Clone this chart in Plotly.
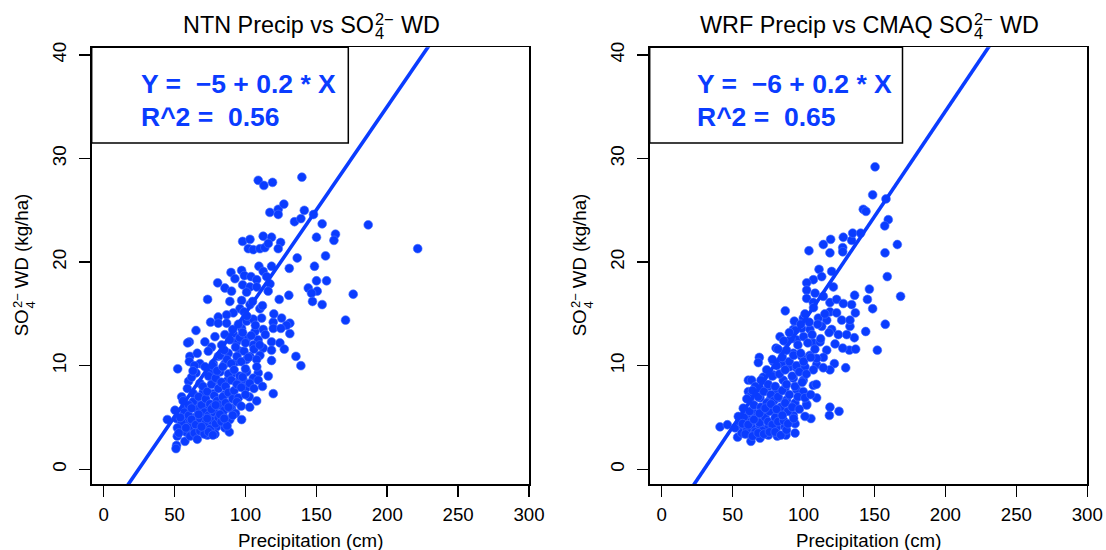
import plotly.graph_objects as go

W, H = 1106, 550
FONT = "Liberation Sans, Arial, Helvetica, sans-serif"
BLUE = "rgb(10,60,255)"

# ---------------- data ----------------
x_ticks = [0, 50, 100, 150, 200, 250, 300]
y_ticks = [0, 10, 20, 30, 40]
x_range = [-8.46, 300]
y_range = [-1.45, 40.74]

# NTN precipitation (cm) vs NTN SO4 wet deposition (kg/ha)
ntn_points = [
    (109.0, 27.9), (113.0, 27.4), (119.1, 27.7), (139.8, 28.2), (117.2, 24.8), (123.1, 25.1),
    (127.1, 25.6), (123.1, 24.6), (134.6, 23.9), (139.1, 24.2), (141.5, 25.0), (148.0, 24.6),
    (154.1, 23.7), (150.1, 22.4), (163.5, 22.7), (162.4, 22.1), (186.6, 23.6), (221.5, 21.3),
    (98.0, 22.0), (103.2, 22.2), (112.5, 22.5), (118.4, 22.4), (124.8, 21.9), (102.0, 21.3),
    (105.5, 21.2), (110.2, 21.3), (113.7, 21.4), (116.1, 21.8), (123.1, 21.3), (156.5, 20.6),
    (136.5, 20.4), (109.5, 19.6), (118.4, 19.6), (130.9, 19.4), (148.7, 19.6), (112.5, 19.1),
    (89.8, 19.0), (97.3, 19.2), (92.6, 18.4), (99.2, 18.7), (103.9, 18.6), (107.9, 18.3),
    (114.9, 18.6), (117.3, 17.9), (80.4, 18.0), (85.5, 17.5), (90.2, 17.2), (98.0, 17.8),
    (103.2, 17.6), (107.9, 17.6), (100.8, 17.1), (144.3, 17.5), (150.1, 18.2), (157.2, 18.2),
    (150.6, 17.2), (146.6, 17.0), (176.0, 16.9), (170.6, 14.4), (147.3, 16.2), (154.1, 15.9),
    (123.8, 16.4), (130.6, 16.8), (73.3, 16.4), (89.0, 16.2), (97.3, 16.3), (103.2, 15.9),
    (110.2, 15.5), (96.1, 15.5), (91.4, 15.1), (86.7, 14.9), (80.8, 14.7), (75.4, 14.2),
    (80.8, 14.1), (86.7, 14.1), (100.8, 14.3), (105.5, 14.5), (111.4, 14.6), (119.6, 14.2),
    (125.5, 14.6), (131.3, 14.1), (129.0, 13.9), (131.3, 13.1), (119.6, 13.6), (112.5, 13.5),
    (106.7, 13.3), (97.3, 13.6), (91.4, 13.1), (85.5, 13.0), (78.5, 12.8), (71.4, 12.3),
    (65.1, 13.4), (60.4, 12.3), (59.2, 12.2), (76.1, 11.8), (83.2, 12.0), (93.8, 12.3),
    (100.8, 12.6), (109.0, 12.5), (118.4, 12.3), (124.3, 12.2), (112.5, 11.7), (105.5, 12.0),
    (73.8, 11.4), (80.8, 10.9), (87.9, 11.2), (96.1, 11.4), (103.2, 10.9), (110.2, 11.0),
    (118.4, 11.5), (127.4, 11.6), (60.8, 10.9), (60.4, 10.4), (67.9, 10.2), (71.4, 9.9),
    (77.3, 10.2), (85.5, 10.2), (93.8, 10.4), (100.8, 10.6), (107.9, 10.6), (118.4, 10.5),
    (135.6, 10.9), (139.1, 10.0), (52.2, 9.7), (65.1, 9.3), (75.0, 9.3), (82.0, 9.4),
    (91.4, 9.3), (100.8, 9.4), (109.0, 9.3), (116.1, 9.0), (105.5, 8.8), (98.4, 8.6),
    (59.9, 8.5), (67.9, 8.3), (77.3, 8.5), (86.7, 8.5), (93.8, 8.4), (98.4, 7.9),
    (100.8, 7.9), (119.6, 7.3), (55.0, 7.0), (63.2, 7.3), (70.3, 7.5), (77.3, 7.3),
    (85.5, 7.2), (90.2, 7.2), (92.6, 6.9), (102.7, 7.0), (107.9, 6.6), (50.3, 5.7),
    (58.5, 6.0), (65.5, 6.2), (71.4, 5.9), (78.5, 6.0), (84.4, 6.0), (90.2, 5.9),
    (44.9, 4.8), (51.4, 4.9), (58.5, 4.8), (65.5, 5.1), (71.4, 5.1), (78.5, 5.0),
    (84.4, 5.1), (89.0, 4.8), (97.3, 4.8), (53.8, 4.1), (60.8, 4.1), (67.9, 4.1),
    (73.8, 4.3), (79.6, 4.1), (85.5, 4.0), (88.6, 3.6), (73.1, 3.3), (78.5, 3.4),
    (51.9, 3.2), (57.3, 2.7), (51.4, 2.3), (51.0, 2.0),
    (55, 4.5), (57, 5.5), (60, 5.2), (62, 4.8), (63, 6.5), (65, 4.3), (66, 5.8), (67, 7.0),
    (68, 4.9), (69, 6.2), (70, 3.8), (70, 8.0), (71, 5.5), (72, 6.8), (72, 4.5), (73, 7.5),
    (74, 9.0), (74, 5.2), (75, 6.3), (75, 3.9), (76, 8.2), (76, 4.7), (77, 10.0), (77, 6.0),
    (78, 7.1), (78, 5.5), (79, 8.8), (79, 4.4), (80, 6.6), (80, 9.5), (81, 5.0), (81, 7.8),
    (82, 11.0), (82, 6.2), (83, 8.4), (83, 4.6), (84, 9.9), (84, 7.0), (85, 5.7), (85, 11.5),
    (86, 8.0), (86, 6.4), (87, 10.6), (87, 4.2), (88, 7.4), (88, 9.2), (89, 12.5), (89, 5.9),
    (90, 8.6), (90, 10.2), (91, 6.8), (91, 13.5), (92, 9.6), (92, 7.6), (93, 11.8), (93, 5.4),
    (94, 8.2), (94, 10.9), (95, 14.0), (95, 6.9), (96, 9.0), (96, 12.7), (97, 7.9), (97, 10.4),
    (98, 13.2), (98, 8.9), (99, 11.4), (99, 15.2), (100, 9.7), (100, 12.2), (101, 14.8),
    (102, 10.8), (103, 8.3), (104, 12.9), (105, 16.2), (106, 11.6), (107, 13.9), (108, 9.9),
    (110, 12.0), (112, 15.8), (114, 13.0), (116, 17.2), (120, 15.0), (125, 13.6),
    (58, 3.6), (61, 3.2), (64, 3.5), (66, 2.9), (68, 3.7), (71, 3.4), (74, 3.6), (77, 3.3),
    (56, 6.6), (59, 7.8), (62, 8.9), (64, 10.0), (66, 11.2), (60, 6.2), (63, 9.5), (52, 4.0),
    (54, 5.0), (53, 3.5), (58, 4.0), (62, 5.9), (67, 5.3), (69, 4.1), (73, 4.9), (76, 5.8),
    (79, 6.2), (82, 5.3), (85, 4.9), (88, 6.0), (91, 5.2), (94, 6.5), (97, 6.1), (100, 7.2),
    (103, 6.0), (106, 7.8), (109, 8.6), (112, 8.0),
]

# WRF precipitation (cm) vs CMAQ SO4 wet deposition (kg/ha)
cmaq_points = [
    (150.4, 29.2), (148.7, 26.5), (158.1, 26.1), (142.1, 25.1), (144.0, 24.9), (159.7, 24.1),
    (157.2, 23.5), (166.1, 21.7), (157.4, 20.9), (159.0, 18.6), (168.4, 16.7), (157.6, 14.0),
    (152.0, 11.5), (146.4, 17.4), (145.0, 16.4), (148.7, 15.5), (143.8, 13.3), (136.0, 16.8),
    (133.9, 15.9), (136.5, 15.1), (132.7, 13.8), (135.8, 12.7), (132.3, 11.5), (136.7, 11.6),
    (127.6, 11.7), (122.2, 12.1), (129.7, 9.8), (121.7, 10.2), (116.3, 11.5), (113.9, 10.8),
    (109.2, 10.1), (118.6, 9.6), (109.2, 6.9), (118.6, 6.0), (118.2, 5.2), (125.0, 5.6),
    (102.2, 6.3), (105.2, 4.9), (101.0, 5.1), (94.0, 4.4), (94.0, 3.5), (87.6, 3.3),
    (81.5, 3.2), (75.2, 3.3), (69.3, 3.0), (62.9, 2.7), (53.5, 3.1), (41.1, 4.1),
    (46.3, 4.3), (103.8, 21.1), (113.9, 21.7), (119.1, 22.2), (118.6, 20.9), (127.6, 21.4),
    (128.0, 22.4), (133.9, 22.1), (134.6, 22.8), (140.2, 22.8), (127.6, 21.0), (110.9, 19.3),
    (119.8, 19.1), (106.9, 18.3), (112.8, 18.6), (102.2, 18.0), (121.0, 17.6), (102.2, 17.3),
    (108.1, 17.0), (102.2, 16.5), (113.9, 16.7), (118.6, 16.1), (123.3, 16.4), (128.0, 16.0),
    (87.1, 15.3), (106.9, 16.1), (118.6, 15.2), (123.3, 15.1), (126.9, 14.4), (132.7, 14.4),
    (93.5, 14.3), (99.8, 14.6), (110.4, 14.6), (116.3, 14.4), (119.8, 13.5), (124.5, 13.0),
    (130.4, 13.0), (92.8, 13.5), (98.7, 13.6), (104.5, 13.5), (112.8, 13.8), (83.4, 12.8),
    (88.1, 12.3), (95.1, 12.5), (106.9, 12.2), (111.6, 12.3), (80.6, 11.7), (85.7, 11.3),
    (92.8, 11.2), (98.7, 10.9), (104.5, 11.0), (109.2, 10.7), (68.8, 10.8), (68.1, 10.3),
    (78.7, 10.4), (84.6, 10.2), (90.4, 9.9), (95.1, 9.8), (101.0, 9.9), (106.9, 9.6),
    (113.9, 9.8), (61.1, 8.6), (63.4, 8.6), (71.6, 8.9), (78.7, 9.1), (85.7, 8.6),
    (92.8, 8.8), (99.8, 8.6), (106.9, 8.1), (61.1, 7.5), (69.3, 7.8), (75.2, 8.0),
    (81.0, 7.7), (86.9, 7.8), (95.1, 7.7), (99.8, 7.5), (57.5, 5.9), (62.2, 6.7),
    (69.3, 6.9), (76.3, 6.7), (82.2, 6.9), (88.1, 6.7), (94.0, 6.4), (102.2, 6.2),
    (54.0, 5.1), (59.9, 5.2), (65.8, 5.4), (72.8, 5.4), (79.9, 5.6), (85.7, 5.4),
    (92.8, 5.2), (51.7, 4.0), (57.5, 4.1), (63.4, 4.1), (69.3, 4.2), (75.2, 4.1),
    (81.0, 4.0), (86.9, 4.1), (56.4, 3.5),
    (55, 4.6), (58, 5.0), (60, 3.8), (62, 5.6), (63, 4.6), (65, 6.2), (66, 3.6), (67, 5.0),
    (68, 7.0), (69, 4.5), (70, 6.0), (71, 3.7), (72, 7.5), (73, 5.0), (74, 6.4), (75, 8.2),
    (75, 4.6), (76, 5.6), (77, 7.2), (78, 9.0), (78, 4.3), (79, 6.6), (80, 8.0), (80, 5.0),
    (81, 10.0), (82, 7.0), (82, 4.6), (83, 9.2), (84, 6.0), (85, 10.8), (85, 7.6), (86, 4.7),
    (87, 9.6), (87, 6.4), (88, 11.5), (88, 8.2), (89, 5.6), (90, 10.4), (90, 7.2), (91, 12.6),
    (92, 9.0), (92, 6.0), (93, 11.0), (94, 8.0), (94, 13.4), (95, 10.0), (96, 7.0), (96, 12.0),
    (97, 9.4), (98, 14.0), (98, 11.2), (99, 8.4), (100, 12.8), (100, 10.4), (101, 15.0),
    (102, 9.2), (103, 12.2), (104, 14.2), (105, 10.8), (106, 13.0), (107, 15.6), (108, 11.6),
    (110, 14.0), (112, 12.6), (115, 15.0), (118, 13.2), (59, 3.4), (64, 3.2), (68, 3.5),
    (72, 3.4), (76, 3.6), (80, 3.6), (84, 3.3), (88, 3.8), (57, 4.4), (61, 4.3), (65, 4.8),
    (69, 5.4), (73, 5.9), (77, 6.3), (81, 5.8), (85, 5.2), (89, 4.4), (93, 4.9), (97, 5.8),
    (101, 6.9), (105, 7.2), (109, 8.2), (62, 7.0), (66, 8.0), (70, 8.6), (74, 9.6), (78, 10.6),
    (82, 11.6), (86, 12.4), (90, 13.2), (60, 6.8), (64, 7.6),
]

# fitted regression lines (intercept, slope) and the legend texts
ntn_fit = (-4.92, 0.1997)
cmaq_fit = (-6.09, 0.2033)
ntn_legend = ["Y =\u00a0\u00a0\u22125 + 0.2 * X", "R^2 =\u00a0\u00a00.56"]
cmaq_legend = ["Y =\u00a0\u00a0\u22126 + 0.2 * X", "R^2 =\u00a0\u00a00.65"]
title_main = ["NTN Precip vs SO", "WRF Precip vs CMAQ SO"]

# ---------------- layout geometry (pixels) ----------------
PANELS = [(91.7, 529.0), (649.7, 1087.3)]
TOP, BOTTOM = 47.3, 484.3
F_TITLE, F_AXIS, F_LEG = 23.4, 18.7, 26.5

# Helvetica/Arial advance widths (1/1000 em) used to lay out the composite texts
CW = {" ": 278, "(": 333, ")": 333, "/": 278, "2": 556, "4": 556, "\u2212": 584,
      "A": 667, "C": 722, "D": 722, "F": 611, "M": 833, "N": 722, "O": 778, "P": 667,
      "Q": 778, "R": 722, "S": 667, "T": 611, "W": 944, "a": 556, "c": 500, "e": 556,
      "g": 556, "h": 556, "i": 222, "k": 500, "p": 556, "r": 333, "s": 500, "v": 500}


def tw(s, size):
    return sum(CW.get(ch, 556) for ch in s) / 1000.0 * size


def px(x):
    return x / W


def py(y):
    return 1 - y / H


fig = go.Figure()

for i, (pts, fit) in enumerate([(ntn_points, ntn_fit), (cmaq_points, cmaq_fit)]):
    xs = [p[0] for p in pts]
    ys = [p[1] for p in pts]
    xa = "x" if i == 0 else "x2"
    ya = "y" if i == 0 else "y2"
    fig.add_trace(go.Scatter(x=xs, y=ys, mode="markers", xaxis=xa, yaxis=ya,
                             marker=dict(size=8.8, color=BLUE, line=dict(width=0.6, color="rgb(70,110,255)")),
                             showlegend=False, hoverinfo="skip"))
    a, b = fit
    lx = [x_range[0], x_range[1]]
    fig.add_trace(go.Scatter(x=lx, y=[a + b * v for v in lx], mode="lines", xaxis=xa, yaxis=ya,
                             line=dict(color=BLUE, width=3.6), showlegend=False, hoverinfo="skip"))

axis_common = dict(showgrid=False, zeroline=False, showline=True, mirror=True, linecolor="black",
                   linewidth=1.5, ticks="outside", ticklen=11, tickwidth=1.5, tickcolor="black",
                   automargin=False, tickfont=dict(family=FONT, size=F_AXIS, color="black"))

layout = dict(template="none", width=W, height=H, autosize=False,
              margin=dict(l=0, r=0, t=0, b=0, pad=0, autoexpand=False),
              plot_bgcolor="white", paper_bgcolor="white", showlegend=False)
for i, (x0, x1) in enumerate(PANELS):
    sx = "" if i == 0 else "2"
    layout["xaxis" + sx] = dict(axis_common, domain=[px(x0), px(x1)], range=x_range, tickvals=x_ticks,
                                ticklabelstandoff=2, anchor="y" + sx)
    layout["yaxis" + sx] = dict(axis_common, domain=[py(BOTTOM), py(TOP)], range=y_range, tickvals=y_ticks,
                                tickangle=-90, ticklabelstandoff=6, anchor="x" + sx)
fig.update_layout(**layout)

anns = []
shapes = []


def ann(text, x, y, size, xanchor="left", yanchor="middle", color="black", angle=0):
    anns.append(dict(text=text, x=px(x), y=py(y), xref="paper", yref="paper", xanchor=xanchor,
                     yanchor=yanchor, showarrow=False, textangle=angle, borderpad=0,
                     font=dict(family=FONT, size=size, color=color)))


legend_right = [348.3, 902.5]
legend_text_x = [140.3, 695.6]
legends = [ntn_legend, cmaq_legend]

for i, (x0, x1) in enumerate(PANELS):
    cx = (x0 + x1) / 2
    cy = (TOP + BOTTOM) / 2
    # ---- title with stacked super/subscript, centred over the panel
    s_t = 0.7 * F_TITLE
    w_main = tw(title_main[i], F_TITLE)
    w_scr = tw("2\u2212", s_t) + 1.5
    w_wd = tw(" WD", F_TITLE)
    start = cx - (w_main + w_scr + w_wd) / 2
    ann(title_main[i], start, 25.4, F_TITLE)
    ann("2\u2212", start + w_main + 0.5, 19.4, s_t)
    ann("4", start + w_main + 0.5, 33.2, s_t)
    ann("WD", start + w_main + w_scr + tw(" ", F_TITLE), 25.4, F_TITLE)
    # ---- x axis title
    ann("Precipitation (cm)", cx, 540.0, F_AXIS, xanchor="center")
    # ---- y axis title (rotated, stacked super/subscript), centred on the panel
    off = x0 - PANELS[0][0]
    s_a = 0.7 * F_AXIS
    w_so = tw("SO", F_AXIS)
    w_scr2 = tw("2\u2212", s_a) + 1.0
    w_rest = tw(" WD (kg/ha)", F_AXIS)
    ybot = cy + (w_so + w_scr2 + w_rest) / 2
    ann("SO", 21.7 + off, ybot, F_AXIS, xanchor="center", yanchor="bottom", angle=-90)
    ann("2\u2212", 17.0 + off, ybot - w_so - 0.5, s_a, xanchor="center", yanchor="bottom", angle=-90)
    ann("4", 30.5 + off, ybot - w_so - 0.5, s_a, xanchor="center", yanchor="bottom", angle=-90)
    ann("WD (kg/ha)", 21.7 + off, ybot - w_so - w_scr2 - tw(" ", F_AXIS), F_AXIS,
        xanchor="center", yanchor="bottom", angle=-90)
    # ---- legend box and text
    shapes.append(dict(type="rect", xref="paper", yref="paper", x0=px(x0), x1=px(legend_right[i]),
                       y0=py(143.0), y1=py(TOP), line=dict(color="black", width=1.5),
                       fillcolor="white", layer="above"))
    ann("<b>" + legends[i][0] + "</b>", legend_text_x[i], 83.9, F_LEG, color=BLUE)
    ann("<b>" + legends[i][1] + "</b>", legend_text_x[i], 117.0, F_LEG, color=BLUE)

fig.update_layout(annotations=anns, shapes=shapes)
fig.write_html(
    "out.html",
    config={"displayModeBar": False, "staticPlot": True},
    post_script=("document.body.style.margin='0px';"
                 "var gd=document.getElementById('{plot_id}');"
                 "Plotly.relayout(gd,{width:1106,height:550});"),
)
